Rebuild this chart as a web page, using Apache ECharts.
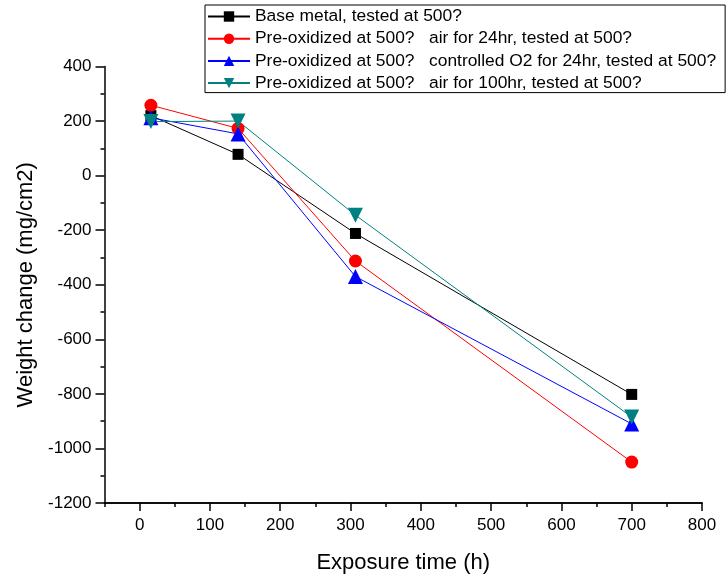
<!DOCTYPE html>
<html><head><meta charset="utf-8">
<script src="https://cdn.jsdelivr.net/npm/echarts@6/dist/echarts.min.js"></script>
<style>html,body{margin:0;padding:0;background:#fff}#c{width:728px;height:579px}</style>
</head><body><div id="c"></div>
<script>
const seriesNames = [
  'Base metal, tested at 500?',
  'Pre-oxidized at 500?   air for 24hr, tested at 500?',
  'Pre-oxidized at 500?   controlled O2 for 24hr, tested at 500?',
  'Pre-oxidized at 500?   air for 100hr, tested at 500?'
];
const baseMetal = [[16, 220], [140, 78], [307, -212], [700, -802]];
const air24 = [[16, 258], [140, 173], [307, -313], [700, -1050]];
const o2_24 = [[16, 212], [140, 153], [307, -370], [700, -910]];
const air100 = [[16, 198], [140, 200], [307, -145], [700, -885]];
const xTickLabels = [0, 100, 200, 300, 400, 500, 600, 700, 800];
const xRange = [-50, 800];
const yTickLabels = [-1200, -1000, -800, -600, -400, -200, 0, 200, 400];

const colors = ['#000000', '#ff0000', '#0000ff', '#008080'];
const symbols = ['rect', 'circle', 'triangle', 'triangle'];
const symbolSizes = [11, 13, 15, 15];
const rotations = [0, 0, 0, 180];
const datas = [baseMetal, air24, o2_24, air100];

const chart = echarts.init(document.getElementById('c'));
const font = 'Liberation Sans, Arial, sans-serif';
const axisLine = { show: true, onZero: false, lineStyle: { color: '#000', width: 1.5 } };
chart.setOption({
  animation: false,
  textStyle: { fontFamily: font },
  grid: { left: 104.5, right: 26, top: 66.5, bottom: 74 },
  legend: {
    orient: 'vertical', left: 205, top: 5,
    itemWidth: 42, itemHeight: 13, itemGap: 5.2,
    borderColor: '#000', borderWidth: 1, padding: [3, 9, 1, 2],
    textStyle: { fontFamily: font, fontSize: 17.4, color: '#000' },
    data: seriesNames
  },
  xAxis: [{
    type: 'value', min: xRange[0], max: xRange[1], interval: 50,
    axisLine: axisLine,
    axisTick: { show: true, inside: false, length: 4, lineStyle: { color: '#000', width: 1.5 } },
    axisLabel: { show: false },
    splitLine: { show: false }
  }, {
    type: 'value', min: xRange[0], max: xRange[1], position: 'bottom',
    name: 'Exposure time (h)', nameLocation: 'middle', nameGap: 49,
    nameTextStyle: { fontSize: 22, color: '#000', fontFamily: font },
    axisLine: axisLine,
    axisTick: { show: true, inside: false, length: 8, customValues: xTickLabels,
      lineStyle: { color: '#000', width: 1.5 } },
    axisLabel: { color: '#000', fontSize: 17, margin: 14, fontFamily: font, customValues: xTickLabels,
      formatter: v => String(v) },
    splitLine: { show: false }
  }],
  yAxis: {
    type: 'value', min: yTickLabels[0], max: yTickLabels[yTickLabels.length - 1], interval: 200,
    name: 'Weight change (mg/cm2)', nameLocation: 'middle', nameGap: 67,
    nameTextStyle: { fontSize: 22, color: '#000', fontFamily: font },
    axisLine: axisLine,
    axisTick: { show: true, inside: false, length: 9, lineStyle: { color: '#000', width: 1.5 } },
    minorTick: { show: true, splitNumber: 2, length: 4, lineStyle: { color: '#000', width: 1.5 } },
    axisLabel: { color: '#000', fontSize: 17, margin: 13, fontFamily: font, formatter: v => String(v) },
    splitLine: { show: false }
  },
  series: datas.map((d, i) => ({
    name: seriesNames[i], type: 'line', data: d, xAxisIndex: 0,
    color: colors[i],
    symbol: symbols[i], symbolSize: symbolSizes[i], symbolRotate: rotations[i],
    showAllSymbol: true,
    lineStyle: { width: 1, color: colors[i] },
    itemStyle: { color: colors[i] }
  }))
});
</script></body></html>
